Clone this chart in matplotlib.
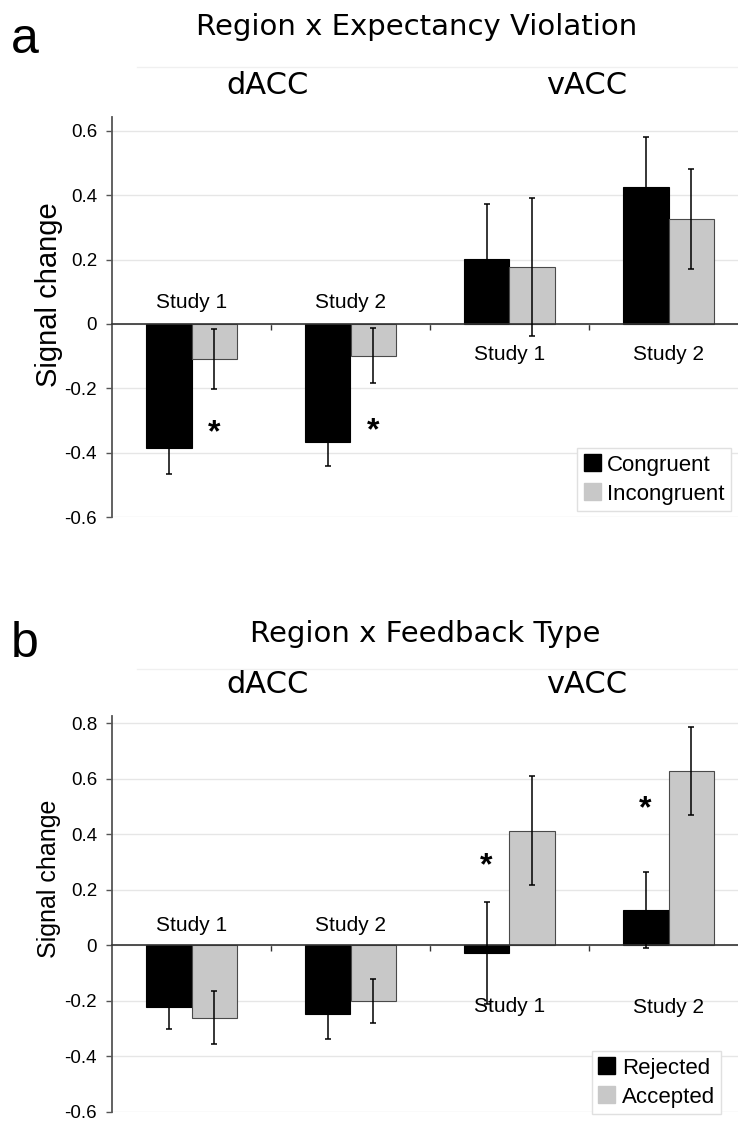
import matplotlib
matplotlib.use("Agg")
import matplotlib.pyplot as plt
from matplotlib.patches import Patch
from matplotlib.lines import Line2D
from matplotlib.ticker import FuncFormatter

plt.rcParams['font.family'] = ['Liberation Sans', 'DejaVu Sans']
plt.rcParams['axes.unicode_minus'] = False

# data
studies = ['Study 1', 'Study 2', 'Study 1', 'Study 2']
regions = ['dACC', 'vACC']

# panel a: Region x Expectancy Violation
congruent = [-0.386, -0.366, 0.201, 0.427]
congruent_err = [0.080, 0.075, 0.172, 0.153]
incongruent = [-0.109, -0.098, 0.178, 0.326]
incongruent_err = [0.092, 0.086, 0.215, 0.156]
study_label_y_a = [0.066, 0.066, -0.096, -0.096]
star_idx_a = [0, 1]          # on the Incongruent bars
star_y_a = [-0.319, -0.314]

# panel b: Region x Feedback Type
rejected = [-0.222, -0.249, -0.027, 0.126]
rejected_err = [0.079, 0.088, 0.183, 0.137]
accepted = [-0.261, -0.201, 0.413, 0.628]
accepted_err = [0.096, 0.079, 0.197, 0.159]
study_label_y_b = [0.073, 0.073, -0.219, -0.224]
star_idx_b = [2, 3]          # on the Rejected bars
star_y_b = [0.308, 0.513]

W, H = 738, 1133
fig = plt.figure(figsize=(W / 100, H / 100), dpi=100)


def px(x, y):
    return x / W, 1 - y / H


BLACK = '#000000'
GRAY = '#c8c8c8'
BW = 0.289


def panel(ax, v1, e1, v2, e2, names, label_y, star_idx, star_side, star_y,
          ymax, ticks, ylab_size, ylab_y, leg_xy):
    x = list(range(len(v1)))
    x1 = [i - BW / 2 for i in x]
    x2 = [i + BW / 2 for i in x]
    ax.bar(x1, v1, width=BW, color=BLACK, edgecolor=BLACK, linewidth=0.8, zorder=2)
    ax.bar(x2, v2, width=BW, color=GRAY, edgecolor='#4a4a4a', linewidth=0.8, zorder=2)
    ax.errorbar(x1, v1, yerr=e1, fmt='none', ecolor='black', elinewidth=1.1,
                capsize=2.2, capthick=1.1, zorder=4)
    ax.errorbar(x2, v2, yerr=e2, fmt='none', ecolor='black', elinewidth=1.1,
                capsize=2.2, capthick=1.1, zorder=4)

    ax.set_xlim(-0.5, 3.5)
    ax.set_ylim(-0.6, ymax)
    ax.set_yticks(ticks)
    ax.yaxis.set_major_formatter(FuncFormatter(lambda v, _: '0' if abs(v) < 1e-9 else f'{v:.1f}'))
    ax.set_xticks([0.5, 1.5, 2.5])
    ax.set_xticklabels([])
    ax.tick_params(axis='y', length=4.3, width=1.0, color='#555555', pad=6.5, labelsize=13.5)
    ax.tick_params(axis='x', length=4.3, width=1.0, color='#333333', direction='out')
    ax.grid(axis='y', color='#e6e6e6', linewidth=1.0)
    ax.set_axisbelow(True)
    for s in ['top', 'right']:
        ax.spines[s].set_visible(False)
    ax.spines['left'].set_color('#555555')
    ax.spines['left'].set_linewidth(1.3)
    ax.spines['bottom'].set_position(('data', 0))
    ax.spines['bottom'].set_color('#333333')
    ax.spines['bottom'].set_linewidth(1.2)
    ax.spines['bottom'].set_zorder(3)

    for i, (name, ly) in enumerate(zip(studies, label_y)):
        ax.text(i, ly, name, ha='center', va='center', fontsize=15)

    for i, sy in zip(star_idx, star_y):
        ax.annotate('*', (i + star_side * BW / 2, sy), xytext=(0, -0.45 * 23),
                    textcoords='offset points', ha='center', va='baseline',
                    fontsize=23, fontweight='bold')

    ax.text(-0.0995, ylab_y, 'Signal change', transform=ax.transAxes, rotation=90,
            ha='center', va='center', fontsize=ylab_size)

    handles = [Patch(facecolor=BLACK, edgecolor=BLACK), Patch(facecolor=GRAY, edgecolor=GRAY)]
    leg = ax.legend(handles, names, loc='upper left', bbox_to_anchor=px(*leg_xy),
                    bbox_transform=fig.transFigure, borderaxespad=0, fontsize=16,
                    handlelength=0.75, handleheight=0.8, handletextpad=0.3,
                    labelspacing=0.35, borderpad=0.3, fancybox=False, framealpha=1)
    leg.get_frame().set_edgecolor('#e0e0e0')
    leg.get_frame().set_linewidth(1.0)


# panel a
ax_a = fig.add_axes([112 / W, (H - 517) / H, 636 / W, (517 - 116.7) / H])
panel(ax_a, congruent, congruent_err, incongruent, incongruent_err,
      ['Congruent', 'Incongruent'], study_label_y_a, star_idx_a, 1, star_y_a,
      -0.6 + 400.3 / 321.7, [-0.6, -0.4, -0.2, 0, 0.2, 0.4, 0.6], 21, 0.5546,
      (577.3, 447.7))

# panel b
ax_b = fig.add_axes([112 / W, (H - 1111.7) / H, 636 / W, (1111.7 - 716) / H])
panel(ax_b, rejected, rejected_err, accepted, accepted_err,
      ['Rejected', 'Accepted'], study_label_y_b, star_idx_b, -1, star_y_b,
      -0.6 + 395.7 / 277.4, [-0.6, -0.4, -0.2, 0, 0.2, 0.4, 0.6, 0.8], 18, 0.588,
      (591.7, 1050.7))

# titles, region headers, panel letters
for letter, title, ty, ry, ly, line_y in [('a', 'Region x Expectancy Violation', 35, 94, 53, 67),
                                          ('b', 'Region x Feedback Type', 641.7, 693, 656.7, 669)]:
    fig.text(*px(416.7 if letter == 'a' else 425, ty), title, ha='center', va='baseline',
             fontsize=21, family='DejaVu Sans')
    fig.text(*px(268, ry), regions[0], ha='center', va='baseline', fontsize=22, family='DejaVu Sans')
    fig.text(*px(586.7, ry), regions[1], ha='center', va='baseline', fontsize=22, family='DejaVu Sans')
    fig.text(*px(25, ly), letter, ha='center', va='baseline', fontsize=36)
    fig.add_artist(Line2D([137 / W, 1], [1 - line_y / H] * 2, transform=fig.transFigure,
                          color='#f0f0f0', linewidth=1.0))

fig.savefig('out.png', dpi=100)
